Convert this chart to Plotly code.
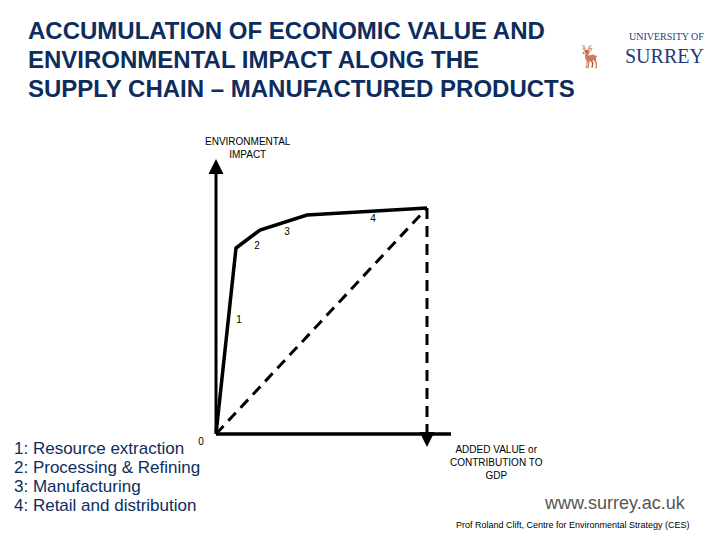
import plotly.graph_objects as go

# supply chain path (value added vs environmental impact), origin = 0
stage_x = [0, 20, 44, 91, 211]
stage_y = [0, 186, 204, 219, 226]
stage_labels = ["0", "1", "2", "3", "4"]
label_x = [-15, 23, 41, 71, 157]
label_y = [-8, 114, 188, 202, 215]

title_lines = ["ACCUMULATION OF ECONOMIC VALUE AND",
               "ENVIRONMENTAL IMPACT ALONG THE",
               "SUPPLY CHAIN – MANUFACTURED PRODUCTS"]
legend_lines = ["1: Resource extraction", "2: Processing & Refining",
                "3: Manufacturing", "4: Retail and distribution"]

navy = "#0d2d5e"
W, H = 720, 540

fig = go.Figure()

# solid curve
fig.add_trace(go.Scatter(x=stage_x, y=stage_y, mode="lines",
                         line=dict(color="black", width=3.5), hoverinfo="skip"))
# dashed diagonal and drop line
fig.add_trace(go.Scatter(x=[stage_x[0], stage_x[-1]], y=[stage_y[0], stage_y[-1]], mode="lines",
                         line=dict(color="black", width=3, dash="11px,7px"), hoverinfo="skip"))
fig.add_trace(go.Scatter(x=[stage_x[-1], stage_x[-1]], y=[stage_y[-1], -4], mode="lines",
                         line=dict(color="black", width=3, dash="11px,7px"), hoverinfo="skip"))
fig.add_trace(go.Scatter(x=label_x, y=label_y, mode="text", text=stage_labels,
                         textfont=dict(family="Arial", size=10, color="black"), hoverinfo="skip"))

# axes with arrows
fig.add_annotation(x=0, y=275, ax=0, ay=0, xref="x", yref="y", axref="x", ayref="y",
                   showarrow=True, arrowhead=2, arrowsize=1, arrowwidth=3, arrowcolor="black", text="")
fig.add_shape(type="line", x0=0, y0=0, x1=235, y1=0, line=dict(color="black", width=3.5))
fig.add_annotation(x=211, y=-13, ax=211, ay=-2, xref="x", yref="y", axref="x", ayref="y",
                   showarrow=True, arrowhead=2, arrowsize=1, arrowwidth=3, arrowcolor="black", text="")

fig.add_annotation(x=32, y=286, xref="x", yref="y", showarrow=False,
                   text="ENVIRONMENTAL<br>IMPACT", font=dict(family="Arial", size=10, color="black"))
fig.add_annotation(x=280, y=-28, xref="x", yref="y", showarrow=False,
                   text="ADDED VALUE or<br>CONTRIBUTION TO<br>GDP", font=dict(family="Arial", size=10, color="black"))

for i, line in enumerate(title_lines):
    fig.add_annotation(x=18 / W, y=1 - (22 + 29 * i) / H, xref="paper", yref="paper",
                       showarrow=False, xanchor="left", yanchor="middle",
                       text="<b>" + line + "</b>", font=dict(family="Arial", size=24, color=navy))
for i, line in enumerate(legend_lines):
    fig.add_annotation(x=4 / W, y=1 - (440 + 19 * i) / H, xref="paper", yref="paper",
                       showarrow=False, xanchor="left", yanchor="middle",
                       text=line, font=dict(family="Arial", size=17, color=navy))

fig.add_annotation(x=0.945, y=0.062, xref="paper", yref="paper", xanchor="right",
                   showarrow=False, text="www.surrey.ac.uk",
                   font=dict(family="Arial", size=18, color="#555555"))
fig.add_annotation(x=0.95, y=0.03, xref="paper", yref="paper", xanchor="right",
                   showarrow=False, text="Prof Roland Clift, Centre for Environmental Strategy (CES)",
                   font=dict(family="Arial", size=9, color="black"))
# logo as text
fig.add_annotation(x=0.83, y=0.945, xref="paper", yref="paper", showarrow=False,
                   text="🦌", font=dict(size=22, color="#c9a227"))
fig.add_annotation(x=0.97, y=0.962, xref="paper", yref="paper", xanchor="right", showarrow=False,
                   text="UNIVERSITY OF", font=dict(family="Times New Roman, Liberation Serif", size=10, color="#1f3a7a"))
fig.add_annotation(x=0.97, y=0.935, xref="paper", yref="paper", xanchor="right", showarrow=False,
                   text="SURREY", font=dict(family="Times New Roman, Liberation Serif", size=20, color="#1f3a7a"))

fig.update_xaxes(range=[-208, 512], visible=False)
fig.update_yaxes(range=[-114, 426], visible=False)
fig.update_layout(width=W, height=H, margin=dict(l=0, r=0, t=0, b=0),
                  plot_bgcolor="white", paper_bgcolor="white", showlegend=False)

fig.write_html("out.html")
